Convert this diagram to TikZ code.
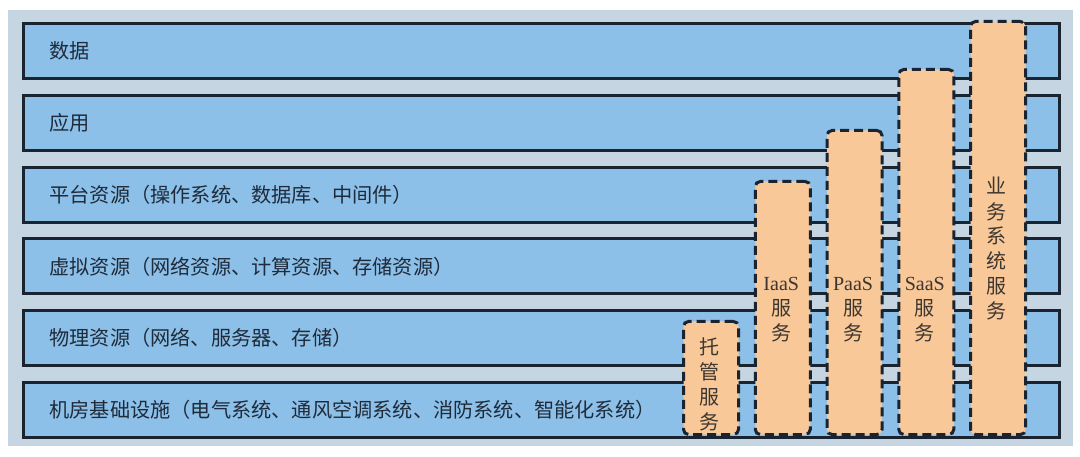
\documentclass[tikz,border=0pt]{standalone}
\usepackage{fontspec}
\setmainfont{Liberation Serif}
\newfontfamily\cjk{Noto Sans CJK SC}
\usepackage{xcolor}
\usepackage{tikz}

\definecolor{bgblue}{HTML}{C6D5E2}
\definecolor{barblue}{HTML}{8CC0E8}
\definecolor{svcorange}{HTML}{F8C898}
\definecolor{edge}{HTML}{1A2430}
\definecolor{ink}{HTML}{1F2B3A}
\definecolor{svcink}{HTML}{3E3630}

\tikzset{
  bar/.style={draw=edge,line width=3pt,fill=barblue,anchor=north west,
    minimum height=55pt,text width=984pt,inner xsep=26pt,inner ysep=0pt,
    align=left,font=\cjk\fontsize{20.2}{22}\selectfont,text=ink},
  svc/.style={draw=edge,line width=3pt,dash pattern=on 9pt off 5pt,
    fill=svcorange,rounded corners=5pt,minimum width=55pt,
    anchor=south west,inner sep=0pt},
  svctext/.style={align=center,inner sep=0pt,
    font=\cjk\fontsize{20}{25}\selectfont,text=svcink}
}

\begin{document}
\begin{tikzpicture}[x=1pt,y=-1pt]
\useasboundingbox (0,0) rectangle (1080,457);
\fill[bgblue] (8,10) rectangle (1073,446);
% layers
\node (data)  [bar] at (22,22)    {数据};
\node (app)   [bar] at (22,93.8)  {应用};
\node (plat)  [bar] at (22,165.6) {平台资源（操作系统、数据库、中间件）};
\node (virt)  [bar] at (22,237.4) {虚拟资源（网络资源、计算资源、存储资源）};
\node (phys)  [bar] at (22,309.2) {物理资源（网络、服务器、存储）};
\node (room)  [bar] at (22,381)   {机房基础设施（电气系统、通风空调系统、消防系统、智能化系统）};
% service columns
\node (host)  [svc,minimum height=113pt] at (682,436)    {};
\node (iaas)  [svc,minimum height=253pt] at (753.75,436) {};
\node (paas)  [svc,minimum height=304pt] at (825.5,436)  {};
\node (saas)  [svc,minimum height=365pt] at (897.25,436) {};
\node (biz)   [svc,minimum height=413pt] at (969,436)    {};
\node (hostt) [svctext] at (709.5,384)    {托\\管\\服\\务};
\node (iaast) [svctext] at (781.25,310)   {{\rmfamily IaaS}\\服\\务};
\node (paast) [svctext] at (853,310)      {{\rmfamily PaaS}\\服\\务};
\node (saast) [svctext] at (924.75,310)   {{\rmfamily SaaS}\\服\\务};
\node (bizt)  [svctext] at (996.5,249)    {业\\务\\系\\统\\服\\务};
\end{tikzpicture}
\end{document}
